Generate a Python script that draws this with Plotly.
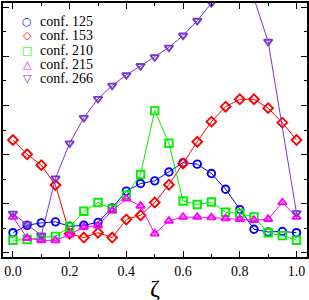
import plotly.graph_objects as go

zeta = [0.0, 0.05, 0.1, 0.15, 0.2, 0.25, 0.3, 0.35, 0.4, 0.45, 0.5,
        0.55, 0.6, 0.65, 0.7, 0.75, 0.8, 0.85, 0.9, 0.95, 1.0]

conf125 = [0.82, 1.12, 1.22, 1.26, 1.08, 1.12, 1.24, 1.83, 2.51, 2.82, 2.93,
           3.29, 3.67, 3.61, 3.23, 2.59, 1.76, 0.96, 0.85, 0.87, 0.82]
conf153 = [4.59, 4.01, 3.57, 2.76, 0.78, 0.62, 0.82, 0.62, 1.36, 1.53, 2.05,
           2.77, 3.64, 4.52, 5.34, 5.95, 6.25, 6.25, 5.89, 5.30, 4.59]
conf210 = [0.51, 0.54, 0.62, 0.67, 1.05, 1.69, 2.05, 1.79, 2.35, 3.19, 5.79,
           4.46, 2.11, 1.97, 2.07, 1.65, 1.60, 1.46, 0.82, 0.70, 0.51]
conf215 = [1.46, 0.60, 0.51, 0.51, 0.74, 1.05, 1.11, 1.72, 2.20, 1.91, 0.78,
           1.30, 1.46, 1.46, 1.44, 1.40, 1.37, 1.33, 1.37, 2.05, 1.46]
conf266 = [1.60, 1.16, 0.71, 3.03, 4.46, 5.50, 6.27, 6.81, 7.24, 7.61, 7.97,
           8.36, 8.85, 9.45, 10.17, 11.0, 11.3, 10.35, 8.60, None, 1.62]

names = ["conf. 125", "conf. 153", "conf. 210", "conf. 215", "conf. 266"]
values = [conf125, conf153, conf210, conf215, conf266]
colors = ["#0000ff", "#ff0000", "#00f000", "#ff00ff", "#7838cc"]
symbols = ["circle-open", "diamond-open", "square-open", "triangle-up-open", "triangle-down-open"]
legend_glyphs = ["○", "◇", "□", "△", "▽"]
x_title = "ζ"

SERIF = "Liberation Serif, Times New Roman, serif"

fig = go.Figure()
for name, ys, col, sym in zip(names, values, colors, symbols):
    fig.add_trace(go.Scatter(
        x=zeta, y=ys, name=name, mode="lines+markers", connectgaps=True,
        showlegend=False,
        line=dict(color=col, width=1),
        marker=dict(symbol=sym, size=7.5, color=col, line=dict(color=col, width=1.9)),
    ))

# legend drawn as text (compact row spacing like the reference)
legend_top = 0.927
row_step = 0.0565
annotations = []
for i, (name, col, g) in enumerate(zip(names, colors, legend_glyphs)):
    yy = legend_top - i * row_step
    annotations.append(dict(xref="paper", yref="paper", x=0.079, y=yy, text="<b>" + g + "</b>",
                            showarrow=False, xanchor="center", yanchor="middle",
                            font=dict(family="DejaVu Sans", size=11, color=col)))
    annotations.append(dict(xref="paper", yref="paper", x=0.115, y=yy, text=name,
                            showarrow=False, xanchor="left", yanchor="middle",
                            font=dict(family=SERIF, size=14, color="black")))
# x-axis title
annotations.append(dict(xref="paper", yref="paper", x=0.5, y=-0.122, text=x_title,
                        showarrow=False, xanchor="center", yanchor="middle",
                        font=dict(family=SERIF, size=24, color="black")))

axis_common = dict(showgrid=False, zeroline=False, showline=True, linecolor="black",
                   linewidth=1.5, mirror="ticks", ticks="inside", tickcolor="black",
                   automargin=False)

fig.update_layout(
    width=309, height=300,
    margin=dict(l=3, r=2, t=3, b=43),
    plot_bgcolor="white", paper_bgcolor="white",
    font=dict(family=SERIF, color="black", size=14),
    showlegend=False,
    annotations=annotations,
    xaxis=dict(range=[-0.035, 1.037], tickvals=[0, 0.2, 0.4, 0.6, 0.8, 1.0],
               ticktext=["0.0", "0.2", "0.4", "0.6", "0.8", "1.0"], ticklen=6,
               tickwidth=1.2,
               minor=dict(dtick=0.1, tick0=0, ticks="inside", ticklen=3, tickcolor="black"),
               tickfont=dict(family=SERIF, size=14), **axis_common),
    yaxis=dict(range=[-0.17, 10.17], dtick=2, tick0=0, ticklen=6, tickwidth=1.2,
               showticklabels=False,
               minor=dict(dtick=1, tick0=0, ticks="inside", ticklen=3, tickcolor="black"),
               **axis_common),
)

fig.write_html("out.html", config={"displayModeBar": False},
               post_script="document.body.style.margin='0';document.body.style.padding='0';")
